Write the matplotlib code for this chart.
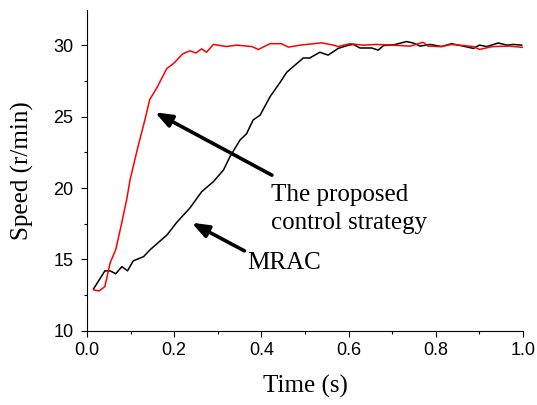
import matplotlib
matplotlib.use('Agg')
import matplotlib.pyplot as plt
from matplotlib.ticker import MultipleLocator

# proposed control strategy (red)
t_prop = [0.015, 0.028, 0.041, 0.053, 0.066, 0.080, 0.091, 0.099, 0.117, 0.133, 0.144,
          0.160, 0.183, 0.198, 0.220, 0.236, 0.250, 0.263, 0.274, 0.290, 0.320, 0.343,
          0.378, 0.393, 0.420, 0.446, 0.462, 0.489, 0.538, 0.565, 0.576, 0.603, 0.633,
          0.664, 0.700, 0.741, 0.771, 0.782, 0.813, 0.836, 0.886, 0.900, 0.930, 0.970, 1.000]
v_prop = [12.87, 12.8, 13.1, 14.75, 15.7, 17.6, 19.2, 20.6, 22.9, 24.8, 26.2,
          27.0, 28.36, 28.7, 29.4, 29.6, 29.45, 29.74, 29.5, 30.05, 29.9, 30.0,
          29.9, 29.7, 30.1, 30.1, 29.86, 30.0, 30.16, 30.0, 29.9, 30.1, 30.0,
          30.05, 30.0, 29.93, 30.2, 29.93, 29.9, 30.05, 29.9, 29.7, 29.9, 29.93, 29.84]

# MRAC (black)
t_mrac = [0.015, 0.041, 0.053, 0.066, 0.080, 0.093, 0.106, 0.130, 0.144, 0.183, 0.206,
          0.236, 0.263, 0.290, 0.313, 0.328, 0.351, 0.366, 0.381, 0.397, 0.420, 0.443,
          0.458, 0.477, 0.496, 0.511, 0.534, 0.553, 0.576, 0.600, 0.611, 0.626, 0.653,
          0.668, 0.680, 0.706, 0.733, 0.748, 0.764, 0.787, 0.813, 0.836, 0.863, 0.886,
          0.900, 0.917, 0.943, 0.963, 0.978, 0.997]
v_mrac = [12.94, 14.2, 14.2, 14.0, 14.5, 14.2, 14.9, 15.2, 15.66, 16.7, 17.6,
          18.6, 19.74, 20.45, 21.26, 22.2, 23.36, 23.8, 24.76, 25.1, 26.4, 27.4,
          28.1, 28.6, 29.1, 29.1, 29.5, 29.3, 29.77, 30.0, 30.05, 29.8, 29.8,
          29.65, 29.97, 30.04, 30.25, 30.15, 29.93, 30.05, 29.9, 30.1, 29.93, 29.77,
          30.0, 29.9, 30.15, 30.0, 30.05, 30.0]

fig = plt.figure(figsize=(5.37, 4.05), dpi=100)
ax = fig.add_axes([0.162, 0.183, 0.812, 0.792])

ax.plot(t_mrac, v_mrac, color='black', lw=1.1)
ax.plot(t_prop, v_prop, color='red', lw=1.1)

ax.set_xlim(0, 1.0)
ax.set_ylim(10, 32.45)
ax.xaxis.set_major_locator(MultipleLocator(0.2))
ax.xaxis.set_minor_locator(MultipleLocator(0.1))
ax.yaxis.set_major_locator(MultipleLocator(5))
ax.yaxis.set_minor_locator(MultipleLocator(2.5))
ax.spines['top'].set_visible(False)
ax.spines['right'].set_visible(False)
ax.tick_params(which='major', direction='out', length=4.3, width=0.8,
               labelsize=13, labelfontfamily='Liberation Sans')
ax.tick_params(axis='y', which='major', pad=5.5)
ax.tick_params(which='minor', direction='out', length=2.4, width=0.8)
ax.xaxis.set_major_formatter(plt.FuncFormatter(lambda v, p: '%.1f' % v))

serif = 'Liberation Serif'
ax.set_xlabel('Time (s)', family=serif, fontsize=18, labelpad=12)
ax.set_ylabel('Speed (r/min)', family=serif, fontsize=18, labelpad=14)

arrow = dict(arrowstyle='-|>,head_length=1.0,head_width=0.38', color='black',
             lw=2.6, shrinkA=0, shrinkB=0)
ax.annotate('', xy=(0.156, 25.3), xytext=(0.424, 20.9), arrowprops=arrow)
ax.annotate('', xy=(0.24, 17.57), xytext=(0.361, 15.6), arrowprops=arrow)
ax.text(0.421, 20.25, 'The proposed\ncontrol strategy', family=serif, fontsize=18,
        va='top', ha='left', linespacing=1.3)
ax.text(0.367, 14.75, 'MRAC', family=serif, fontsize=18, va='center', ha='left')

fig.savefig('out.png', dpi=100)
